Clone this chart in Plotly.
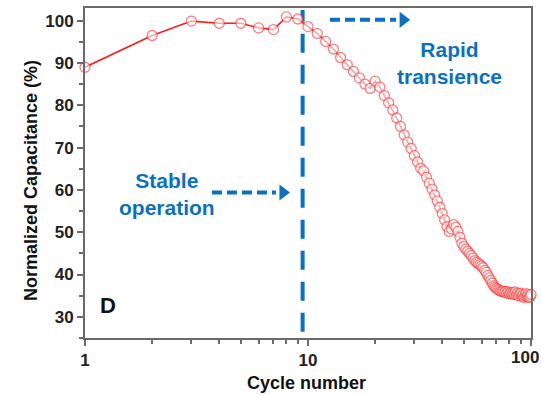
import numpy as np
import plotly.graph_objects as go

# Cycle index and normalized capacitance (%)
cycles = list(range(1, 101))
capacitance = [
    89.0, 96.5, 99.9, 99.4, 99.4, 98.3, 97.9, 100.9, 100.4, 98.6,
    97.0, 95.1, 93.3, 91.3, 89.6, 88.0, 86.5, 85.0, 84.0, 85.7,
    84.3, 82.3, 80.6, 78.9, 77.0, 75.0, 73.0, 71.3, 69.8, 68.1,
    66.6, 65.1, 64.5, 63.0, 61.6, 60.2, 58.8, 57.4, 55.9, 54.4,
    52.9, 51.3, 50.2, 50.8, 51.8, 51.2, 50.2, 48.8, 47.4, 46.6,
    46.0, 45.5, 45.0, 44.5, 43.9, 43.3, 42.9, 42.6, 42.3, 42.0,
    41.6, 41.0, 40.5, 39.8, 39.2, 38.6, 38.0, 37.4, 37.0, 36.7,
    36.5, 36.3, 36.1, 36.0, 36.1, 35.8, 36.0, 35.6, 35.9, 35.5,
    35.8, 35.4, 35.7, 35.3, 35.9, 35.2, 35.6, 35.0, 35.4, 35.6,
    34.9, 35.3, 34.6, 35.0, 35.5, 34.8, 35.2, 34.6, 34.8, 35.3,
]

x_ticks = [1, 10, 100]
x_tick_labels = ["1", "10", "100"]
x_minor = [2, 3, 4, 5, 6, 7, 8, 9, 20, 30, 40, 50, 60, 70, 80, 90]
y_ticks = [30, 40, 50, 60, 70, 80, 90, 100]

# Regime boundary and annotation arrows (data coordinates)
split_cycle = 9.46
y_range = [25, 103]
stable_arrow = dict(x0=3.71, x1=8.3, y=59.4)
rapid_arrow = dict(x0=12.55, x1=28.7, y=100.2)

BLUE = "#0b70c2"
RED = "#ff1a1a"
FONT = "Arial, Liberation Sans, sans-serif"

fig = go.Figure()

# boundary line between the two regimes
fig.add_trace(go.Scatter(
    x=[split_cycle, split_cycle], y=[y_range[0] + 1.5, y_range[1] - 0.5],
    mode="lines", line=dict(color=BLUE, width=4, dash="19px,12px"),
    hoverinfo="skip", showlegend=False))

# dashed arrows with triangular heads
px_per_decade = 446 / 2.0
for arr in (stable_arrow, rapid_arrow):
    head_len = 14
    base = 10 ** (np.log10(arr["x1"]) - head_len / px_per_decade)
    fig.add_trace(go.Scatter(
        x=[arr["x0"], base], y=[arr["y"], arr["y"]],
        mode="lines", line=dict(color=BLUE, width=4, dash="10px,5px"),
        hoverinfo="skip", showlegend=False))
    mid = 10 ** (np.log10(arr["x1"]) - head_len / 2 / px_per_decade)
    fig.add_trace(go.Scatter(
        x=[mid], y=[arr["y"]], mode="markers",
        marker=dict(symbol="triangle-right", size=14, color=BLUE,
                    line=dict(width=0)),
        hoverinfo="skip", showlegend=False))

# capacitance retention curve
fig.add_trace(go.Scatter(
    x=cycles, y=capacitance, mode="lines+markers",
    line=dict(color=RED, width=1.6),
    marker=dict(symbol="circle", size=10, color="rgba(255,255,255,0.6)",
                line=dict(color="rgba(255,40,40,0.6)", width=1.3)),
    cliponaxis=False, showlegend=False))

tick_font = dict(family=FONT, size=17, color="#222222", weight="bold")
axis_common = dict(
    showline=True, linecolor="#6b6b6b", linewidth=2, mirror=True,
    showgrid=False, zeroline=False, ticks="outside", tickcolor="#6b6b6b",
    tickwidth=1.5, ticklen=6, automargin=False, tickfont=tick_font,
)

# the last decade label sits against the right edge, so it is drawn
# as a right-anchored annotation instead of a regular tick label
fig.update_xaxes(
    type="log", range=[0, 2], tickmode="array", tickvals=x_ticks,
    ticktext=x_tick_labels[:-1] + [""],
    minor=dict(ticks="outside", ticklen=4, tickwidth=1.5, tickcolor="#6b6b6b",
               tickmode="array", tickvals=x_minor, showgrid=False),
    **axis_common)
fig.update_yaxes(
    range=y_range, tickmode="array", tickvals=y_ticks,
    minor=dict(ticks="outside", ticklen=4, tickwidth=1.5, tickcolor="#6b6b6b",
               dtick=5, showgrid=False),
    **axis_common)

title_font = dict(family=FONT, size=18, color="#111111", weight="bold")
note_font = dict(family=FONT, size=21, color=BLUE, weight="bold")

fig.update_layout(
    width=541, height=395,
    margin=dict(l=85, r=10, t=8, b=57, autoexpand=False),
    paper_bgcolor="white", plot_bgcolor="white",
    annotations=[
        dict(text=x_tick_labels[-1], xref="paper", yref="paper", x=1.0215,
             y=-0.058, showarrow=False, font=tick_font, xanchor="right",
             yanchor="middle"),
        dict(text="Cycle number", xref="paper", yref="paper", x=0.497, y=-0.136,
             showarrow=False, font=title_font, xanchor="center", yanchor="middle"),
        dict(text="Normalized Capacitance (%)", xref="paper", yref="paper",
             x=-0.121, y=0.476, textangle=-90, showarrow=False, font=title_font,
             xanchor="center", yanchor="middle"),
        dict(text="Stable<br>operation", xref="paper", yref="paper", x=0.184,
             y=0.435, showarrow=False, font=note_font, align="center",
             xanchor="center", yanchor="middle"),
        dict(text="Rapid<br>transience", xref="paper", yref="paper", x=0.818,
             y=0.832, showarrow=False, font=note_font, align="center",
             xanchor="center", yanchor="middle"),
        dict(text="D", xref="paper", yref="paper", x=0.0516, y=0.097,
             showarrow=False, xanchor="center", yanchor="middle",
             font=dict(family=FONT, size=22, color="#111111", weight="bold")),
    ],
)

fig.write_html("out.html")
